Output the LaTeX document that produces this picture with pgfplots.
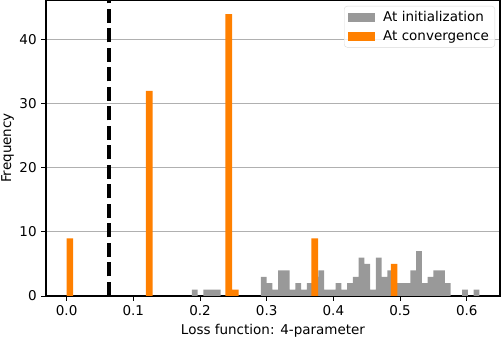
\documentclass[border=0pt]{standalone}
\usepackage{fontspec}
\setmainfont{DejaVu Sans}
\usepackage{pgfplots}
\pgfplotsset{compat=1.18}

\definecolor{initgray}{HTML}{999999}
\definecolor{convorange}{HTML}{FF8000}
\definecolor{gridgray}{HTML}{B0B0B0}

\begin{document}
\fontsize{13.5bp}{16bp}\selectfont
\begin{tikzpicture}
\begin{axis}[
  scale only axis,
  width=454bp, height=296bp,
  xmin=-0.0309, xmax=0.6498,
  ymin=0, ymax=46.2,
  xtick={0,0.1,0.2,0.3,0.4,0.5,0.6},
  ytick={0,10,20,30,40},
  xticklabel style={/pgf/number format/.cd, fixed, fixed zerofill, precision=1},
  /pgf/number format/assume math mode=true,
  tick align=outside, tick pos=left,
  major tick length=4.7bp,
  tick style={black, line width=1bp},
  ymajorgrids,
  grid style={gridgray, line width=1.1bp},
  axis line style={line width=1.1bp, black},
  xlabel={Loss function: 4-parameter},
  ylabel={Frequency},
  xlabel style={at={(axis description cs:0.5,0)}, anchor=south, yshift=-42bp, inner sep=0pt},
  ylabel style={at={([xshift=-45bp]axis description cs:0,0.5)}, anchor=north, inner sep=0pt},
  legend cell align=left,
  legend style={at={(1,1)}, anchor=north east, xshift=-5bp, yshift=-6bp,
    draw=black!15, rounded corners=3bp, fill=white, fill opacity=0.8,
    text opacity=1, inner xsep=4bp, inner ysep=3bp, row sep=3bp},
  legend image code/.code={%
    \fill[#1, fill opacity=1, sharp corners] (0bp,-4.7bp) rectangle (27bp,4.7bp);
    \path (33bp,0bp);},
]
% histogram at initialization (50 bins)
\addplot[ybar interval, fill=initgray, draw=none] coordinates {
  (0.1879,1)(0.1965,0)(0.2051,1)(0.2138,1)(0.2224,1)(0.2310,0)(0.2396,0)
  (0.2482,0)(0.2569,0)(0.2655,0)(0.2741,0)(0.2827,0)(0.2913,3)(0.3000,2)
  (0.3086,1)(0.3172,4)(0.3258,4)(0.3344,1)(0.3431,2)(0.3517,1)(0.3603,2)
  (0.3689,3)(0.3775,4)(0.3862,1)(0.3948,1)(0.4034,2)(0.4120,1)(0.4206,2)
  (0.4293,3)(0.4379,6)(0.4465,5)(0.4551,1)(0.4637,6)(0.4724,3)(0.4810,4)
  (0.4896,2)(0.4982,2)(0.5068,2)(0.5155,4)(0.5241,7)(0.5327,2)(0.5413,3)
  (0.5499,4)(0.5586,4)(0.5672,2)(0.5758,0)(0.5844,0)(0.5930,1)(0.6017,0)
  (0.6103,1)(0.6189,0)
};
\addlegendentry{At initialization}
% histogram at convergence
\addplot[ybar interval, fill=convorange, draw=none] coordinates {
  (0.0000,9)(0.0099,0)(0.1190,32)(0.1290,0)(0.2381,44)(0.2480,1)(0.2579,0)
  (0.3670,9)(0.3770,0)(0.4861,5)(0.4960,0)
};
\addlegendentry{At convergence}
% threshold
\addplot[black, line width=4bp, dash pattern=on 14bp off 5.5bp, forget plot]
  coordinates {(0.0635,0)(0.0635,46.2)};
\end{axis}
\pgfresetboundingbox
\useasboundingbox ([xshift=-46bp,yshift=-44bp]current axis.south west)
  rectangle ([xshift=2bp]current axis.north east);
\end{tikzpicture}
\end{document}
